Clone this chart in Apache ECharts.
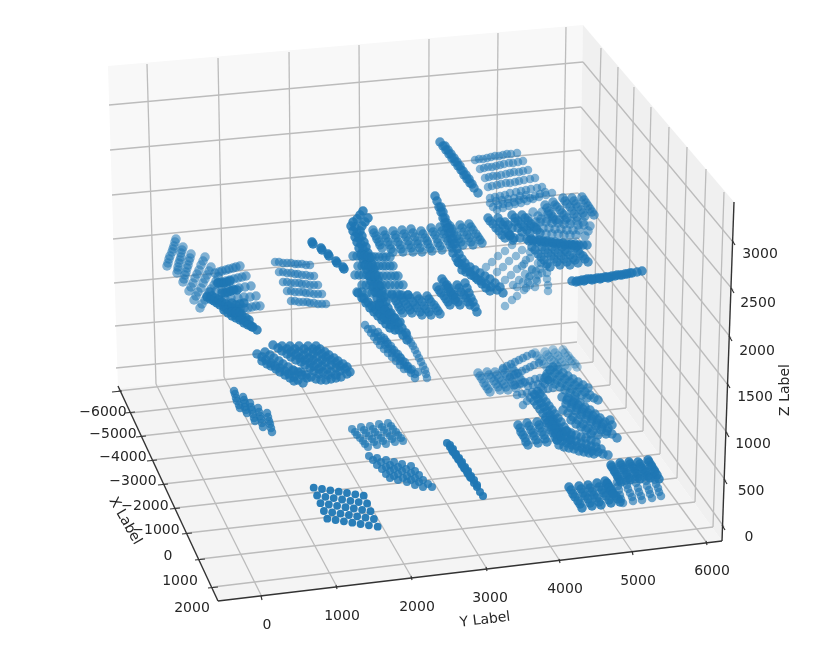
<!DOCTYPE html>
<html><head><meta charset="utf-8">
<style>html,body{margin:0;padding:0;background:#fff}#c{width:830px;height:671px;filter:blur(0.7px)}</style>
<script src="https://cdn.jsdelivr.net/npm/echarts@6/dist/echarts.min.js"></script>
</head><body><div id="c"></div>
<script>
// Values in the plane of the drawing (the view of the 3-D box).
const xTickLabels = ['\u22126000','\u22125000','\u22124000','\u22123000','\u22122000','\u22121000','0','1000','2000'];
const yTickLabels = ['0','1000','2000','3000','4000','5000','6000'];
const zTickLabels = ['3000','2500','2000','1500','1000','500','0'];
const xTickAt = [[103,412],[113,434],[123,457],[133,481],[145,506],[156,530],[168,556],[180,581],[192,608]];
const yTickAt = [[267,625],[342,616],[417,607],[490,598],[565,589],[638,581],[712,571]];
const zTickAt = [[760,254],[758,303],[757,351],[755,397],[753,444],[751,491],[749,537]];

const backPane = [[108,66],[583,25],[577,342],[118,388]];
const sidePane = [[583,25],[734,202],[722,541],[577,342]];
const floorPane = [[118,388],[577,342],[722,541],[218,601]];

const gridRules = [
 [147,64,156,384],[218,58,224,377],[289,52,292,370],[359,45,361,364],[429,39,428,357],[498,33,495,350],[566,27,561,344],
 [109,105,583,62],[110,150,581,107],[112,195,580,150],[113,239,578,193],[114,283,578,238],[115,326,577,282],[116,368,577,322],
 [601,48,593,362],[618,67,610,385],[634,87,626,408],[651,107,643,431],[669,127,660,454],[687,147,677,478],[706,169,695,502],[724,192,713,527],
 [583,62,733,242],[581,107,733,290],[580,150,731,338],[578,193,728,385],[578,238,728,434],[577,282,726,481],[577,322,724,527],
 [156,384,262,597],[224,377,337,587],[292,370,412,578],[361,364,487,569],[428,357,560,561],[495,350,633,553],[561,344,707,543],
 [118,391,577,342],[130,413,593,362],[141,436,610,385],[152,460,626,408],[163,484,643,431],[175,508,660,454],[187,533,677,478],[200,559,695,502],[213,587,713,527]
];
const axisRules = [[118,386,218,601],[218,601,722,541],[722,541,734,202]];
const tickRules = [
 [112,392,122,391],[125,413,135,412],[136,437,146,436],[147,461,157,460],[158,485,168,484],[170,509,180,508],[182,534,192,533],[195,560,205,559],[208,588,218,587],
 [261,596,262,600],[336,585,337,589],[411,576,412,580],[486,567,487,571],[559,559,560,563],[632,551,633,555],[706,541,707,545],
 [732,240,735,245],[731,288,734,293],[729,336,732,341],[727,383,730,388],[726,432,729,437],[724,479,727,484],[722,525,725,530]
];

const floorFront = [313.7,487.7,322,489,330.3,490.3,338.7,491.7,347,493,355.3,494.3,363.7,495.7,
 317.1,495.5,325.4,496.8,333.7,498.1,342.1,499.5,350.4,500.8,358.7,502.1,367.1,503.5,
 320.5,503.2,328.8,504.5,337.1,505.8,345.5,507.2,353.8,508.5,362.1,509.8,370.5,511.2,
 323.9,511,332.2,512.3,340.5,513.6,348.9,515,357.2,516.3,365.5,517.6,373.9,519,
 327.3,518.7,335.6,520,343.9,521.3,352.3,522.7,360.6,524,368.9,525.3,377.7,526.7];
const floorMiddle = [369,456,377,458,386,460,394,462,402,464,411,466,
 373,460,381,462,390,465,398,467,406,469,415,471,
 377,465,386,467,394,469,402,471,411,473,419,475,
 382,469,390,471,398,474,407,476,415,478,423,480,
 386,474,394,476,403,478,411,480,419,482,428,484,
 390,478,398,480,407,482,415,485,423,487,432,487];
const floorUpper = [352,429,361,427,370,426,379,424,388,423,
 355,432,364,430,373,429,382,427,391,426,
 357,435,366,433,375,432,384,430,393,429,
 360,438,369,436,378,435,387,433,396,432,
 363,441,372,439,381,438,390,436,398,435,
 365,444,374,442,383,441,392,439,401,438,
 368,447,377,445,386,444,395,442,403,441];
const floorStrip = [447,443,450,447,453,452,456,456,459,460,462,465,465,469,468,474,471,478,474,483,477,487,480,492,483,496,
 450,445,453,449,456,454,459,458,462,462,465,467,468,471,471,476,474,480,477,485,
 452,450,455,454,458,459,461,463,464,468,467,472,470,477];
const floorLeft = [234,391,235,394,236,398,237,401,239,405,240,408,
 243,397,244,400,245,403,245,407,246,410,247,413,
 250,403,251,407,252,410,253,414,254,418,255,421,
 258,408,259,412,260,416,261,419,262,423,263,427,
 267,413,268,417,269,421,270,424,271,428,272,432];
const floorRightFront = [569,487,571,490,573,494,575,497,578,501,580,504,582,508,
 579,486,581,489,583,493,585,496,588,499,590,503,592,506,
 588,485,590,488,592,492,594,495,597,498,599,502,601,505,
 597,483,599,487,602,490,604,493,606,496,609,500,611,503,
 607,483,609,486,611,489,613,493,616,496,618,499,620,502,
 605,481,607,484,609,488,611,491,613,494];
const floorRightBack = [611,465,612,467,614,470,615,472,617,475,618,477,620,480,621,482,
 620,463,621,465,623,468,624,470,626,473,627,475,629,478,630,480,
 629,462,630,464,632,467,634,469,635,472,637,474,638,477,640,479,
 638,462,640,464,641,467,643,469,645,471,646,473,648,476,650,478,
 648,460,649,462,651,465,652,467,654,470,655,472,657,475,659,479];
const floorRightLight = [617,482,618,486,619,490,620,495,621,499,623,503,
 626,481,627,485,628,489,630,493,632,497,633,501,
 635,479,636,483,638,488,639,492,641,496,642,500,
 644,477,646,481,647,486,649,490,650,494,652,498,
 653,476,655,480,656,484,658,488,659,492,661,496];

const wallLeftFan = [176,239,175,242,174,246,173,249,172,252,170,256,169,259,168,263,167,266,
 183,247,182,250,181,253,181,257,180,260,179,263,178,267,178,270,177,273,
 191,254,190,258,189,261,188,265,187,268,186,272,185,275,184,279,183,282,
 205,257,203,261,201,265,199,270,197,274,195,278,193,283,191,287,189,291,
 211,267,209,271,207,275,205,279,203,283,201,288,198,292,196,296,194,300,
 218,277,216,281,214,285,211,289,209,292,207,296,205,300,202,304,200,308];
const wallLeftRows = [215,273,219,272,222,271,226,270,229,269,233,268,236,267,240,266,
 218,283,222,282,226,281,230,280,234,279,238,278,242,277,246,276,
 210,292,216,291,222,290,228,289,233,289,239,288,245,287,251,286,
 213,300,219,299,225,299,231,298,238,298,244,297,250,297,256,296,
 232,310,236,309,240,309,244,308,248,308,252,307,256,306,260,306];
const wallLeftDark = [218,283,221,283,224,283,227,282,230,281,222,293,225,293,228,292,231,291,234,290,237,290,
 207,297,210,299,214,301,217,303,220,305,224,307,227,309,230,311,233,313,236,315,240,318,243,320,246,322,250,325,253,327,257,330,
 212,296,215,298,219,300,222,302,226,304,229,306,232,308,236,310,239,313,242,315,246,318,249,320,
 224,310,228,313,232,316,236,318,240,320,244,323,248,325,252,327,232,303,236,305,240,304,244,303,232,312,236,312,240,312];
const wallMidRows = [275,262,279,262,283,263,287,263,291,263,295,264,298,264,302,264,306,265,310,265,
 279,272,283,272,287,273,291,273,295,274,298,274,302,275,306,275,310,276,314,276,
 283,282,287,282,291,283,295,283,299,283,302,284,306,284,310,285,314,285,318,285,
 287,291,291,291,295,292,299,292,303,292,306,293,310,293,314,294,318,294,322,294,
 291,301,295,301,299,302,303,302,307,302,310,303,314,303,318,304,322,304,326,304];
const wallMidDashes = [312,242,313,244,321,248,322,250,328,254,329,256,336,261,337,263,344,269,343,267];
const wallLowDiamond = [257,354,262,357,266,360,271,363,275,366,280,368,285,371,289,374,294,377,298,380,303,383,
 262,361,267,364,271,366,276,369,280,372,285,375,290,378,294,381,
 265,352,270,355,274,358,279,361,283,364,288,367,293,370,298,372,302,375,307,378,
 273,345,278,348,282,351,287,354,291,357,296,360,301,362,305,365,310,368,314,371,319,374,
 282,346,287,349,291,352,296,355,300,358,305,360,310,363,314,366,319,369,323,372,328,375,
 290,346,295,349,299,352,304,355,309,358,313,360,318,363,322,366,327,369,331,372,336,375,
 299,346,304,349,308,352,313,354,317,357,322,360,326,362,331,365,336,368,340,371,
 308,346,313,349,317,351,322,354,326,357,331,360,336,363,340,366,345,369,350,372,
 316,346,320,349,325,352,329,355,334,358,338,361,343,364,347,367,
 301,372,306,375,311,377,316,379,321,380,326,380,331,379,336,378,294,371,341,377,347,374];
const wallSteep = [363,211,360,215,357,219,353,222,355,227,357,233,359,238,361,244,363,249,365,255,367,260,369,266,371,271,373,277,375,282,377,288,379,293,381,299,383,304,385,310,388,315,391,320,395,325,399,330,403,335,407,340,
 368,218,365,222,362,226,360,231,362,236,364,242,366,247,368,253,370,258,372,264,374,269,376,275,378,280,380,286,382,291,384,297,386,302,388,308,391,313,394,318,398,323,402,328,406,333,
 351,226,353,231,355,237,357,242,359,248,361,254,363,259,365,265,367,270,369,276,371,281,373,287,375,292,377,298,379,304,381,310,384,315,387,320,391,325,395,330,
 358,293,362,298,366,303,370,308,374,312,378,316,382,320,386,324,390,328,
 364,298,368,302,372,306,376,310,380,314,384,318,375,306,380,306,385,310,390,314,395,318,400,322];
const wallUpperBars = [373,230,374,233,376,236,377,239,379,242,380,245,382,248,
 383,231,385,235,386,238,388,242,390,245,391,249,393,252,
 393,231,395,235,396,238,398,242,400,245,401,249,403,252,
 402,230,404,234,406,237,408,241,409,245,411,248,413,252,
 411,229,413,233,415,237,417,241,418,244,420,248,422,252,
 421,231,423,234,425,238,427,241,428,244,430,248,432,251,
 431,228,433,232,435,235,437,239,438,243,440,246,442,250,
 440,227,442,231,444,234,446,238,448,241,450,245,452,248,
 450,226,452,229,454,232,457,236,459,239,461,242,463,245,
 460,225,462,228,464,232,467,235,469,238,471,242,473,245,
 469,224,471,227,473,230,476,234,478,237,480,240,482,243];
const wallSideRows = [353,256,357,256,361,256,364,256,368,256,372,257,375,257,379,257,383,257,386,257,390,257,
 358,266,362,266,365,266,369,266,372,266,376,266,379,266,383,266,386,266,390,266,393,266,
 355,275,359,275,363,275,367,275,371,276,375,276,379,276,383,276,387,276,391,276,395,276,398,276,
 362,285,366,285,370,285,374,285,378,285,382,285,386,285,390,285,395,285,399,285,403,285,
 357,292,362,292,367,293,372,293,377,293,382,294,387,294,392,294,397,294,402,295,408,295];
const wallLowerBars = [392,295,394,298,396,301,398,304,399,307,401,310,403,313,
 400,295,402,298,404,301,406,304,408,307,410,310,412,313,
 408,295,410,298,413,302,415,305,417,308,420,312,422,315,
 417,296,419,299,422,302,424,306,426,309,429,312,431,315,
 427,296,429,299,431,302,434,305,436,308,438,311,440,314];
const wallRightBars = [442,279,444,282,446,286,448,289,451,293,453,296,455,300,
 437,287,439,290,441,293,444,296,446,299,448,302,450,305,
 447,285,449,288,451,292,454,295,456,298,458,302,460,305,
 457,285,459,288,461,292,464,295,466,298,468,302,470,305,
 465,283,467,288,469,293,471,298,473,302,475,307,477,312];
const wallRightBand = [435,196,437,201,439,207,441,212,443,218,445,223,447,228,449,233,451,239,453,244,453,253,456,258,459,263,462,270,466,272,471,275,476,278,481,281,486,284,491,287,497,290,503,293,
 441,207,443,212,445,218,447,223,449,228,451,233,453,239,455,244,457,249,459,254,462,259,465,263,470,267,475,270,480,273,485,276,490,279,495,283,500,287,
 458,262,462,265,466,268,470,272,474,276,478,280,482,284,486,288,490,291];
const wallDiamond = [365,325,368,329,371,333,374,337,377,341,380,345,384,349,388,353,392,357,396,361,400,365,404,369,
 372,329,375,333,378,337,381,341,385,345,388,349,392,353,396,357,400,361,404,365,408,369,411,373,
 378,332,381,336,385,340,388,344,392,349,396,353,400,357,403,361,407,366,411,370,415,374,415,378,
 384,338,387,342,391,346,394,350,398,354,401,358,405,362,408,366,412,369,418,372];
const wallDiamondEdge = [407,335,409,339,411,343,413,346,415,350,417,354,419,358,421,362,423,366,425,370,426,374,427,378];

const topSpine = [440,142,443,146,446,150,449,154,452,158,455,162,458,166,461,170,464,175,467,179,470,183,474,188,478,193,
 445,146,448,150,451,154,454,158,457,162,460,166,463,171,466,175,469,179,472,184];
const topFan = [475,160,479,159,483,159,487,158,491,157,495,156,499,156,503,155,507,154,511,154,517,153,
 480,169,484,168,488,167,492,167,496,166,500,165,504,164,509,163,513,163,518,162,523,161,
 485,178,489,177,493,176,497,176,501,175,506,174,510,173,514,172,519,172,523,171,528,170,
 488,187,492,186,497,185,501,184,506,183,510,183,515,182,519,181,524,180,530,179,535,178,
 490,198,495,197,500,196,505,195,510,193,516,192,521,191,526,190,531,189,537,188,542,187,
 493,207,498,205,503,204,508,203,514,202,519,200,524,199,530,198,535,196,540,194,545,192,
 497,210,503,208,509,206,515,204,521,203,527,201,533,199,539,197,546,195,552,193,
 490,203,496,201,502,200,508,199,514,198,520,196,526,195];
const topBars = [553,202,555,205,557,207,560,210,562,213,564,215,567,218,
 563,198,565,201,567,204,570,207,572,211,574,214,577,217,
 572,198,574,201,576,204,578,207,581,210,583,213,585,216,
 582,197,584,200,586,203,588,206,590,209,592,212,594,215,
 545,205,547,208,549,211,551,214,553,217,556,220];
const topGrid = [540,222,546,222,552,223,558,223,564,224,570,224,578,225,584,225,590,226,
 543,228,549,228,555,229,561,229,567,230,573,230,579,230,588,231,
 546,234,552,234,558,234,564,235,570,235,576,235,585,236,
 536,222,538,216,533,212,542,212,548,214,528,218,530,226,536,228,
 541,219,547,219,553,219,559,220,565,220,571,221,577,221,583,222];
const topBarsDark = [488,218,490,221,493,224,496,228,499,231,502,235,505,238,
 498,218,500,222,503,225,505,229,508,233,510,236,513,240,
 512,215,515,218,518,221,521,224,524,227,527,230,530,233,
 522,215,525,218,528,221,531,224,534,227,537,230,540,233,
 505,222,508,225,512,228,515,222,518,228,522,232,510,235,514,238,520,238,
 527,239,531,239,535,240,539,240,543,241,547,241,551,242,555,242,559,243,563,243,567,244,571,244,575,244,579,245,583,245,587,245,
 529,241,533,241,537,242,541,242,545,242,549,243,553,243,557,244,561,244,565,245,569,245,573,246,577,246];
const topLowerBars = [532,247,535,250,538,254,541,257,544,260,547,264,550,267,
 542,247,545,250,548,253,551,256,554,259,557,262,560,265,
 552,247,555,250,558,253,561,256,564,259,567,262,570,265,
 562,247,565,250,567,252,570,255,573,258,575,260,578,263,
 573,245,575,248,578,251,580,254,583,256,585,259,588,262];
const topSparse = [486,267,492,262,498,256,505,251,512,245,
 497,272,503,267,509,261,516,256,522,250,
 505,280,511,275,517,269,524,264,530,258,
 513,285,519,280,525,274,532,269,538,263,
 505,306,512,300,517,296,524,290,530,285,536,279,542,273,
 517,287,523,282,529,277,536,271,
 535,287,537,281,538,275,540,269,541,263,
 548,291,548,285,547,279,547,273,546,266,
 526,288,528,282,530,276,532,270,522,266,526,260,530,252];
const topFlat = [572,281,577,281,582,280,587,279,592,279,597,278,602,278,607,277,612,276,617,275,622,275,627,274,632,273,637,272,642,271,
 580,281,585,280,590,279,595,279,600,278,605,277,610,277,615,276,620,275,625,274,630,273,
 576,282,584,281,592,280,600,279,608,278];

const lowLeftBars = [478,373,480,376,482,379,484,383,486,386,488,389,490,392,
 487,372,489,375,491,378,494,381,496,384,498,387,500,390,
 495,372,497,375,499,378,502,381,504,384,506,387,508,390,
 503,370,505,373,507,376,510,379,512,382,514,385,516,388,
 512,368,514,371,516,374,519,377,521,380,523,383];
const lowFanRows = [503,368,507,366,511,364,515,362,519,360,523,358,527,356,532,354,
 510,377,514,375,518,373,522,371,526,369,530,367,534,365,539,363,
 517,395,522,394,527,393,532,392,537,391,543,390,548,389,553,388,
 523,405,527,401,530,398,534,394,538,391,541,387,545,384,548,380,
 515,385,520,384,525,382,530,381,535,379,540,378,546,376,
 528,386,533,385,538,384,543,382,548,380];
const lowLight = [535,353,537,356,540,359,542,361,544,364,547,367,550,370,
 545,352,547,355,549,357,551,360,554,362,556,365,558,367,
 553,350,555,353,558,356,560,359,562,362,565,365,567,368,
 563,350,565,353,568,356,570,359,572,361,575,364,577,367];
const lowBand = [550,370,555,373,560,376,565,379,570,382,575,385,580,388,585,392,590,395,594,398,598,400,
 547,374,552,377,557,380,562,383,567,386,572,389,577,392,582,395,587,398,
 553,367,558,370,563,373,568,376,573,379,578,382,583,385,588,388,
 545,378,550,381,555,384,560,387,565,390,570,393,575,396];
const lowDiamond = [562,397,567,400,572,404,577,408,582,412,587,415,592,419,597,423,602,427,607,431,612,434,617,438,
 568,398,573,402,578,405,583,409,588,413,593,416,598,420,603,424,608,428,612,425,
 566,404,571,408,576,411,581,415,586,419,591,422,596,426,601,430,606,434,
 563,410,568,413,573,417,578,420,583,424,588,428,593,431,598,435,
 575,400,580,403,585,407,590,410,595,414,600,418,605,422,610,420,
 571,420,576,424,581,427,586,430,591,434];
const lowBars = [518,425,520,428,521,432,523,435,525,438,526,442,528,445,
 527,423,529,426,531,430,533,433,534,436,536,440,538,443,
 537,422,539,425,540,428,542,432,544,435,545,439,547,442,
 545,420,547,423,549,427,551,430,553,433,555,437,557,440,
 551,419,553,422,555,426,557,430,559,433,561,437];
const lowDarkBand = [535,395,538,399,541,403,544,407,547,411,550,415,553,419,556,423,559,428,562,432,566,436,570,440,
 540,394,543,398,546,402,549,406,552,410,555,414,558,418,561,422,564,427,567,431,571,435,
 534,401,537,405,540,409,543,413,546,417,549,421,552,425,555,429,558,433,
 557,440,562,441,567,443,572,445,577,446,582,448,587,449,592,451,598,452,603,454,608,455,
 556,434,561,436,566,438,571,440,576,441,581,443,586,444,591,446,596,447,601,449,
 566,431,571,433,576,435,581,437,586,438,591,440,596,442,
 559,445,564,447,569,448,574,449,579,451,584,452,589,453,594,454];

const pairs = a => { const o = []; for (let i = 0; i < a.length; i += 2) o.push([a[i], a[i + 1]]); return o; };
const cloud = (d, op, size = 9.5) => ({ type:'scatter', data:pairs(d), symbolSize:size, silent:true, animation:false, z:5,
  itemStyle:{ color:'#1f77b4', opacity:op } });
const polygon = (pts, fill) => ({ type:'custom', coordinateSystem:'cartesian2d', silent:true, animation:false, z:1, data:[0],
  renderItem:(p, api) => ({ type:'polygon', shape:{ points:pts.map(q => api.coord(q)) }, style:{ fill } }) });
const rules = (list, stroke, width, z) => ({ type:'custom', coordinateSystem:'cartesian2d', silent:true, animation:false, z, data:list,
  encode:{ x:[0,2], y:[1,3] },
  renderItem:(p, api) => { const a = api.coord([api.value(0), api.value(1)]), b = api.coord([api.value(2), api.value(3)]);
    return { type:'line', shape:{ x1:a[0], y1:a[1], x2:b[0], y2:b[1] }, style:{ stroke, lineWidth:width } }; } });
const words = (list, labels, rot, size) => ({ type:'custom', coordinateSystem:'cartesian2d', silent:true, animation:false, z:7, data:list,
  renderItem:(p, api) => { const a = api.coord([api.value(0), api.value(1)]);
    return { type:'text', x:a[0], y:a[1], rotation:rot, style:{ text:labels[p.dataIndex], x:0, y:0, align:'center', verticalAlign:'middle',
      fill:'#262626', font:size + 'px "DejaVu Sans"' } }; } });

const series = [
  polygon(backPane, '#f8f8f8'), polygon(sidePane, '#f0f0f0'), polygon(floorPane, '#f4f4f4'),
  rules(gridRules, '#bcbcbc', 1.3, 2),
  rules(axisRules, '#333333', 1.4, 3), rules(tickRules, '#333333', 1.2, 3),
  words(xTickAt, xTickLabels, 0, 14), words(yTickAt, yTickLabels, 0, 14), words(zTickAt, zTickLabels, 0, 14),
  words([[125,521]], ['X Label'], -1.05, 14), words([[485,620]], ['Y Label'], 0.12, 14), words([[785,390]], ['Z Label'], Math.PI/2, 14),
  cloud(lowLight, .4), cloud(topSparse, .5, 8.5), cloud(topFan, .55, 8.5), cloud(topGrid, .55), cloud(topBars, .65), cloud(lowLeftBars, .55), cloud(lowFanRows, .6, 8.5), cloud(floorRightLight, .65, 8.5),
  cloud(wallLeftFan, .55), cloud(wallLeftRows, .6), cloud(wallLeftDark, .85), cloud(wallMidRows, .6, 8.5), cloud(wallMidDashes, .9), cloud(wallLowDiamond, .8),
  cloud(topSpine, .75), cloud(topBarsDark, .75), cloud(topLowerBars, .75), cloud(topFlat, .8),
  cloud(wallSteep, .85), cloud(wallUpperBars, .7), cloud(wallSideRows, .7), cloud(wallLowerBars, .75), cloud(wallRightBars, .8), cloud(wallRightBand, .8), cloud(wallDiamond, .65, 8.5), cloud(wallDiamondEdge, .6, 8.5),
  cloud(lowBand, .7), cloud(lowDiamond, .75), cloud(lowBars, .75), cloud(lowDarkBand, .75),
  cloud(floorLeft, .75, 8.5), cloud(floorUpper, .7, 8), cloud(floorMiddle, .8, 8), cloud(floorStrip, .9, 8), cloud(floorFront, .95, 7.8), cloud(floorRightBack, .85), cloud(floorRightFront, .85)
];
echarts.init(document.getElementById('c'), null, { renderer:'canvas' }).setOption({
  animation:false, backgroundColor:'#fff',
  grid:{ left:0, right:0, top:0, bottom:0 },
  xAxis:{ type:'value', min:0, max:830, show:false },
  yAxis:{ type:'value', min:0, max:671, inverse:true, show:false },
  series
});
</script></body></html>
